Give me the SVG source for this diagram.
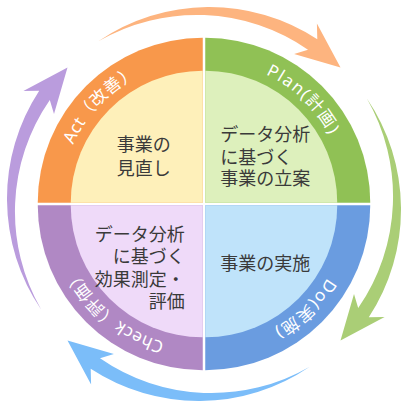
<svg xmlns="http://www.w3.org/2000/svg" xmlns:xlink="http://www.w3.org/1999/xlink" width="410" height="410" viewBox="0 0 410 410">
<style>
.lbl{font-family:"Noto Sans","Noto Sans CJK JP",sans-serif;font-size:17px;fill:#ffffff;letter-spacing:0.5px}
.txt{font-family:"Noto Sans CJK JP","Noto Sans",sans-serif;font-size:18px;fill:#3a3a3a}
</style>
<defs>
<path id="lp" d="M 62 204 A 142 142 0 1 1 346 204 A 142 142 0 1 1 62 204"/>
<path id="arr" d="M 98.3 41.3 A 197 197 0 0 1 317.3 39.2 L 316.9 23.4 L 340.5 67.5 L 294.1 54 L 308 49.8 A 196 196 0 0 0 98.3 41.3 Z"/>
</defs>
<rect width="410" height="410" fill="#ffffff"/>
<g id="connectors">
<use xlink:href="#arr" href="#arr" fill="#FDB47F"/>
<use xlink:href="#arr" href="#arr" fill="#AACE76" transform="rotate(90 204 204)"/>
<use xlink:href="#arr" href="#arr" fill="#7BBDF9" transform="rotate(180 204 204)"/>
<use xlink:href="#arr" href="#arr" fill="#BA9CDD" transform="rotate(270 204 204)"/>
</g>
<g id="act" transform="translate(-1.25 -1.25)">
<path d="M 204 204 L 39 204 A 165 165 0 0 1 204 39 Z" fill="#F8984B"/>
<path d="M 204 204 L 72 204 A 132 132 0 0 1 204 72 Z" fill="#FEF0BA"/>
<text class="lbl"><textPath xlink:href="#lp" href="#lp" startOffset="12.1%" text-anchor="middle">Act（改善）</textPath></text>
<text class="txt" x="145" y="152" text-anchor="middle">事業の</text>
<text class="txt" x="145" y="176" text-anchor="middle">見直し</text>
</g>
<g id="plan" transform="translate(1.25 -1.25)">
<path d="M 204 204 L 204 39 A 165 165 0 0 1 369 204 Z" fill="#90C155"/>
<path d="M 204 204 L 204 72 A 132 132 0 0 1 336 204 Z" fill="#DDF0BC"/>
<text class="lbl" style="letter-spacing:1.5px"><textPath xlink:href="#lp" href="#lp" startOffset="37.1%" text-anchor="middle">Plan(計画)</textPath></text>
<text class="txt" x="219" y="142">データ分析</text>
<text class="txt" x="219" y="165">に基づく</text>
<text class="txt" x="219" y="186">事業の立案</text>
</g>
<g id="do" transform="translate(1.25 1.25)">
<path d="M 204 204 L 369 204 A 165 165 0 0 1 204 369 Z" fill="#6A9CE0"/>
<path d="M 204 204 L 336 204 A 132 132 0 0 1 204 336 Z" fill="#BFE3FA"/>
<text class="lbl" style="letter-spacing:1.5px"><textPath xlink:href="#lp" href="#lp" startOffset="62.8%" text-anchor="middle">Do(実施)</textPath></text>
<text class="txt" x="219" y="269">事業の実施</text>
</g>
<g id="check" transform="translate(-1.25 1.25)">
<path d="M 204 204 L 204 369 A 165 165 0 0 1 39 204 Z" fill="#B088C4"/>
<path d="M 204 204 L 204 336 A 132 132 0 0 1 72 204 Z" fill="#EFDAF9"/>
<text class="lbl"><textPath xlink:href="#lp" href="#lp" startOffset="86.1%" text-anchor="middle">Check（評価）</textPath></text>
<text class="txt" x="186" y="240" text-anchor="end">データ分析</text>
<text class="txt" x="186" y="262" text-anchor="end">に基づく</text>
<text class="txt" x="186" y="285" text-anchor="end">効果測定・</text>
<text class="txt" x="186" y="307" text-anchor="end">評価</text>
</g>
</svg>
